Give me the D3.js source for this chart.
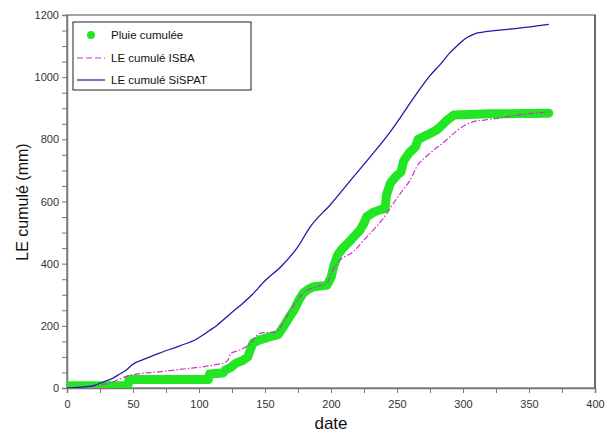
<!DOCTYPE html>
<html><head><meta charset="utf-8">
<script src="https://cdn.jsdelivr.net/npm/d3@7"></script>
<style>body{margin:0;background:#fff}svg{display:block}</style>
</head><body>
<script>
// ---- data ----
const xTicks = [0,50,100,150,200,250,300,350,400];
const yTicks = [0,200,400,600,800,1000,1200];
const seriesNames = ["Pluie cumulée","LE cumulé ISBA","LE cumulé SiSPAT"];
const pluieDays = [0,46,47,107,108,118,120,124,128,133,137,139,141,146,154,160,164,168,172,176,179,183,187,192,197,200,202,205,209,215,222,225,227,232,237,241,242,245,249,253,255,259,264,266,270,275,280,283,288,293,320,365];
const pluieVals = [7,7,27,27,45,48,58,66,80,88,100,125,145,155,165,172,197,225,251,285,305,318,326,328,331,355,390,428,450,476,508,530,551,565,573,578,621,659,680,695,730,755,776,800,808,819,830,841,862,878,882,884];
const isbaDays = [0,20,35,44,49,70,90,111,121,123,124,131,139,146,159,164,172,179,189,197,202,207,217,225,232,240,248,255,260,265,273,281,288,296,308,316,330,341,365];
const isbaVals = [0,5,20,36,42,52,62,74,85,100,111,122,144,176,181,213,267,305,326,337,385,412,439,476,508,548,599,640,669,712,748,776,800,830,857,862,870,878,888];
const sispatDays = [0,10,20,28,35,40,45,49,60,70,85,98,108,114,124,132,140,150,162,175,184,200,215,230,245,253,265,275,283,290,296,300,304,308,312,318,341,365];
const sispatVals = [0,3,8,20,32,45,58,74,95,112,135,157,185,203,240,268,299,345,390,455,517,592,669,745,825,873,948,1005,1042,1078,1103,1118,1130,1138,1143,1147,1157,1170];

// ---- layout ----
const W = 610, H = 439;
const L = 67, R = 595, T = 15, B = 388;
const svg = d3.select("body").append("svg").attr("width", W).attr("height", H)
  .style("font-family", "'Liberation Sans', Arial, sans-serif");

const x = d3.scaleLinear().domain([0,400]).range([L,R]);
const y = d3.scaleLinear().domain([0,1200]).range([B,T]);

svg.append("defs").append("clipPath").attr("id","clip")
  .append("rect").attr("x",L).attr("y",T).attr("width",R-L).attr("height",B-T);

// frame
svg.append("rect").attr("x",L).attr("y",T).attr("width",R-L).attr("height",B-T)
  .attr("fill","#fff").attr("stroke","#888").attr("stroke-width",1.5);
svg.append("line").attr("x1",R).attr("x2",R).attr("y1",T).attr("y2",B).attr("stroke","#333").attr("stroke-width",1);

// axes
const axisColor = "#777";
const xAxis = svg.append("g").attr("transform",`translate(0,${B})`)
  .call(d3.axisBottom(x).tickValues(d3.range(0,401,25)).tickSize(5).tickFormat(d => xTicks.includes(d) ? d : ""));
const yAxis = svg.append("g").attr("transform",`translate(${L},0)`)
  .call(d3.axisLeft(y).tickValues(d3.range(0,1201,50)).tickSize(5).tickFormat(d => yTicks.includes(d) ? d : ""));
[xAxis,yAxis].forEach(a => {
  a.select(".domain").attr("stroke",axisColor).attr("stroke-width",1.5);
  a.selectAll(".tick line").attr("stroke",axisColor);
  a.selectAll(".tick text").attr("fill","#333").style("font-size","11px");
});
xAxis.selectAll(".tick text").attr("dy","1.1em");

// lines
const plot = svg.append("g").attr("clip-path","url(#clip)");
const line = d3.line().x(d => x(d[0])).y(d => y(d[1]));
const smooth = d3.line().x(d => x(d[0])).y(d => y(d[1])).curve(d3.curveMonotoneX);
const pluie = pluieDays.map((d,i) => [d, pluieVals[i]]);
const isba = isbaDays.map((d,i) => [d, isbaVals[i]]);
const sispat = sispatDays.map((d,i) => [d, sispatVals[i]]);

const green = "#22e622", magenta = "#cc33cc", blue = "#1c1ca8";
plot.append("path").datum(pluie).attr("d",line).attr("fill","none")
  .attr("stroke",green).attr("stroke-width",9).attr("stroke-linejoin","round").attr("stroke-linecap","round");
plot.append("path").datum(isba).attr("d",smooth).attr("fill","none")
  .attr("stroke",magenta).attr("stroke-width",1.2).attr("stroke-dasharray","6,2,1.5,2");
plot.append("path").datum(sispat).attr("d",smooth).attr("fill","none")
  .attr("stroke",blue).attr("stroke-width",1.3);

// legend
const lg = svg.append("g");
lg.append("rect").attr("x",73).attr("y",22).attr("width",178).attr("height",68)
  .attr("fill","#fff").attr("stroke","#222").attr("stroke-width",1);
const rows = [35,58,80];
lg.append("circle").attr("cx",91).attr("cy",rows[0]).attr("r",4).attr("fill",green);
lg.append("line").attr("x1",77).attr("x2",105).attr("y1",rows[1]).attr("y2",rows[1])
  .attr("stroke",magenta).attr("stroke-width",1.2).attr("stroke-dasharray","6,3");
lg.append("line").attr("x1",77).attr("x2",105).attr("y1",rows[2]).attr("y2",rows[2])
  .attr("stroke",blue).attr("stroke-width",1.2);
seriesNames.forEach((n,i) => {
  lg.append("text").attr("x",111).attr("y",rows[i]).attr("dy","0.35em")
    .style("font-size","11.5px").attr("fill","#111").text(n);
});

// titles
svg.append("text").attr("x",331).attr("y",429).attr("text-anchor","middle")
  .style("font-size","17px").attr("fill","#111").text("date");
svg.append("text").attr("transform","translate(28,202) rotate(-90)").attr("text-anchor","middle")
  .style("font-size","16px").attr("fill","#111").text("LE cumulé (mm)");
</script>
</body></html>
